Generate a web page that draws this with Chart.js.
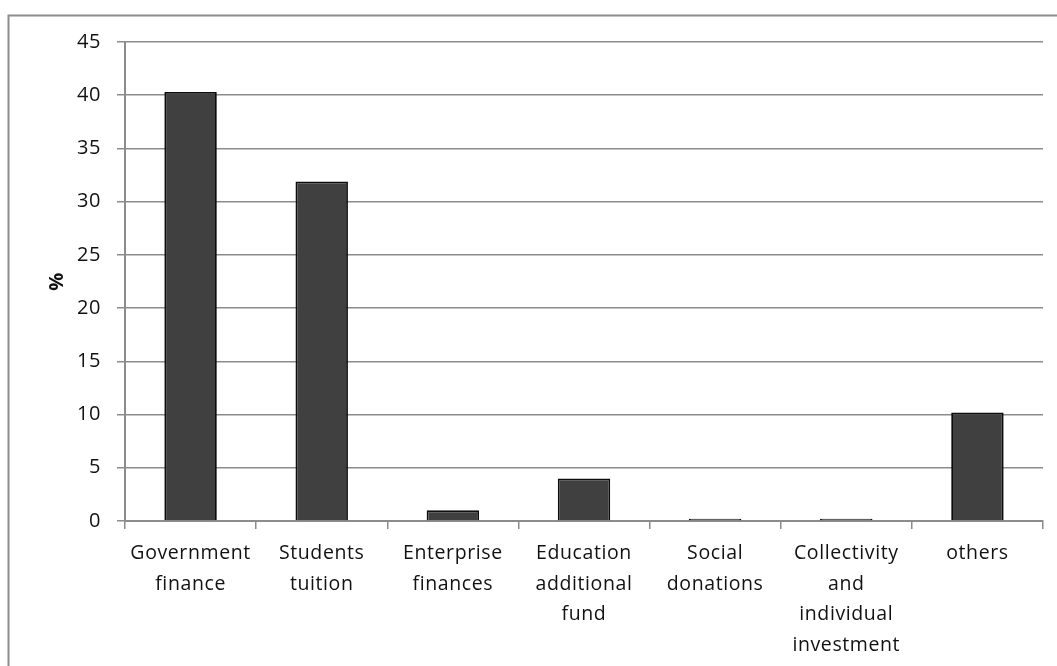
<!DOCTYPE html>
<html>
<head>
<meta charset="utf-8">
<script src="https://cdn.jsdelivr.net/npm/chart.js@4/dist/chart.umd.min.js"></script>
<style>
html,body{margin:0;padding:0;background:#fff;}
#wrap{position:absolute;left:0;top:0;width:1057px;height:666px;}
</style>
</head>
<body>
<div id="wrap"><canvas id="c" width="1057" height="666"></canvas></div>
<script>
const categories = [
  ["Government", "finance"],
  ["Students", "tuition"],
  ["Enterprise", "finances"],
  ["Education", "additional", "fund"],
  ["Social", "donations"],
  ["Collectivity", "and", "individual", "investment"],
  ["others"]
];
const shares = [40.3, 31.9, 1.0, 4.0, 0.2, 0.2, 10.2];
const yTicks = [0, 5, 10, 15, 20, 25, 30, 35, 40, 45];
const yTitle = "%";

const FONT = "'Open Sans', 'Noto Sans', sans-serif";
const GRID = '#8c8c8c';

const framePlugin = {
  id: 'frame',
  beforeDraw(chart) {
    const ctx = chart.ctx;
    ctx.save();
    ctx.fillStyle = '#fff';
    ctx.fillRect(0, 0, chart.width, chart.height);
    ctx.strokeStyle = '#8c8c8c';
    ctx.lineWidth = 2;
    ctx.strokeRect(8.5, 15.5, chart.width + 20, chart.height + 20);
    ctx.restore();
    ctx.letterSpacing = '0.6px';
  }
};

new Chart(document.getElementById('c'), {
  type: 'bar',
  data: {
    labels: categories,
    datasets: [{
      data: shares,
      backgroundColor: '#404040',
      borderColor: '#0d0d0d',
      borderWidth: 1.8,
      barPercentage: 0.4,
      categoryPercentage: 1.0
    }]
  },
  options: {
    responsive: false,
    animation: false,
    devicePixelRatio: 1,
    layout: { padding: { left: 0, right: 14, top: 42, bottom: 0 } },
    plugins: { legend: { display: false }, tooltip: { enabled: false } },
    scales: {
      x: {
        offset: true,
        grid: { display: true, drawOnChartArea: false, drawTicks: true, tickLength: 8, color: GRID, lineWidth: 1.5, offset: true },
        border: { display: true, color: GRID, width: 2 },
        ticks: {
          color: '#111', font: { family: FONT, size: 19.5, lineHeight: 30.7 / 19.5 },
          padding: 9, maxRotation: 0, autoSkip: false
        },
        afterFit(scale) { scale.height = 145; }
      },
      y: {
        min: 0, max: 45,
        afterBuildTicks(scale) { scale.ticks = yTicks.map(v => ({ value: v })); },
        grid: { color: GRID, lineWidth: 1.5, tickLength: 8 },
        border: { display: true, color: GRID, width: 2 },
        ticks: { color: '#111', font: { family: FONT, size: 20 }, padding: 16 },
        title: { display: true, text: yTitle, color: '#111', font: { family: FONT, size: 20, weight: 'bold' }, padding: { top: 45, bottom: 0 } },
        afterFit(scale) { scale.width = 125; }
      }
    }
  },
  plugins: [framePlugin]
});
</script>
</body>
</html>
